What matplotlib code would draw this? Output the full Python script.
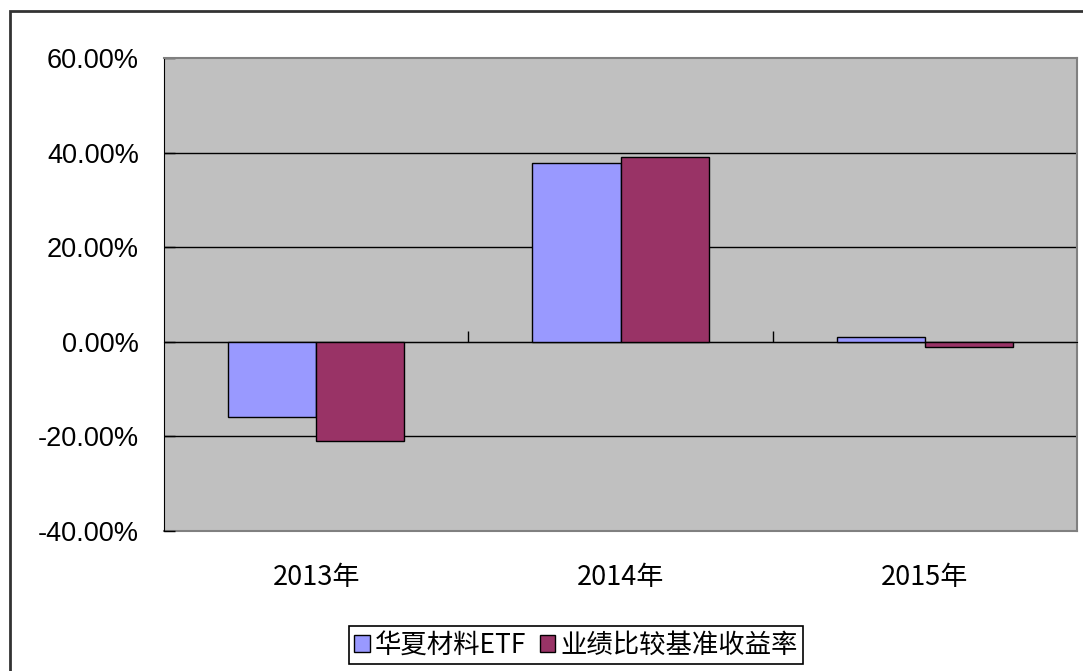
import matplotlib
matplotlib.use('Agg')
import matplotlib.pyplot as plt
import numpy as np
from matplotlib.patches import Rectangle

plt.rcParams['font.family'] = ['Noto Sans CJK SC', 'DejaVu Sans']

# data (percent)
years = ['2013年', '2014年', '2015年']
fund = [-15.9, 37.8, 1.1]
bench = [-20.9, 39.0, -1.2]
series_names = ['华夏材料ETF', '业绩比较基准收益率']
yticks = [-40, -20, 0, 20, 40, 60]

fig = plt.figure(figsize=(10.83, 6.71), dpi=100)
ax = fig.add_axes([164 / 1083, 1 - 531 / 671, (1077 - 164) / 1083, (531 - 58) / 671])
ax.set_facecolor('#C0C0C0')

x = np.arange(len(years))
w = 0.29
b1 = ax.bar(x - w / 2, fund, w, color='#9999FF', edgecolor='black', linewidth=1, zorder=3,
            label=series_names[0])
b2 = ax.bar(x + w / 2, bench, w, color='#993366', edgecolor='black', linewidth=1, zorder=3,
            label=series_names[1])

ax.set_xlim(-0.5, len(years) - 0.5)
ax.set_ylim(yticks[0], yticks[-1])
ax.set_yticks(yticks)
ax.set_yticklabels(['%.2f%%' % v for v in yticks], family='Liberation Sans', fontsize=19.5)
ax.tick_params(axis='y', direction='in', length=8, width=1, pad=18, color='black')
for v in yticks[1:-1]:
    ax.axhline(v, color='black', linewidth=1, zorder=1)

# category axis sits on the zero line, tick marks between groups
ax.spines['bottom'].set_position(('data', 0))
ax.spines['bottom'].set_color('black')
ax.set_xticks(x)
ax.set_xticklabels([])
ax.tick_params(axis='x', which='major', length=0)
ax.set_xticks(x[:-1] + 0.5, minor=True)
ax.tick_params(axis='x', which='minor', direction='in', length=8, width=1, color='black')

ax.spines['left'].set_color('black')
ax.spines['top'].set_color('#808080')
ax.spines['right'].set_color('#808080')
ax.spines['top'].set_linewidth(1.5)
ax.spines['right'].set_linewidth(1.5)

sec = ax.secondary_xaxis('bottom')
sec.set_xticks(x)
sec.set_xticklabels(years, fontsize=19.5)
sec.tick_params(length=0, pad=24)
sec.spines['bottom'].set_color('#808080')
sec.spines['bottom'].set_linewidth(1.5)

leg = fig.legend(handles=[b1, b2], loc='center', bbox_to_anchor=(576 / 1083, 1 - 645 / 671),
                 ncol=2, fontsize=19, frameon=True, fancybox=False, framealpha=1,
                 edgecolor='black', handlelength=0.6, handleheight=0.6, handletextpad=0.2,
                 columnspacing=0.5, borderpad=0.2, borderaxespad=0)
leg.get_frame().set_linewidth(1.2)

# outer chart frame (right/bottom edges fall outside the image)
fig.add_artist(Rectangle((9.5 / 1083, -0.1), 1.2, 1.1 - 11 / 671, transform=fig.transFigure,
                         fill=False, edgecolor='#333333', linewidth=2))

fig.savefig('out.png', dpi=100, facecolor='white')
